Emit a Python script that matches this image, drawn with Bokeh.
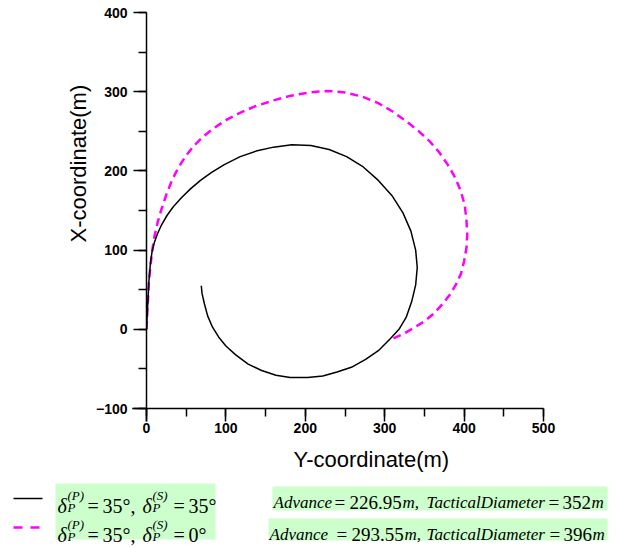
from bokeh.plotting import figure
from bokeh.models import Range1d, LinearAxis, SingleIntervalTicker, Title, ColumnDataSource
from bokeh.core.properties import value
from bokeh.embed import file_html
from bokeh.resources import INLINE

# ---- data (Y-coordinate, X-coordinate) ----
black_y = [0, 1, 2, 3, 5, 7, 10, 14, 19, 26, 34, 44, 55, 68, 82, 98, 118, 138, 160, 183, 207,
           230, 252, 273, 292, 309, 323, 333, 339, 341, 339, 334, 327, 318, 307, 292, 276,
           258, 240, 222, 203, 181, 163, 145, 128, 112, 100, 91, 83, 77, 73, 70, 69]
black_x = [0, 20, 40, 60, 84, 98, 110, 121, 132, 144, 155, 166, 177, 188, 198, 208, 218, 225, 230, 233, 232,
           227, 218, 205, 188, 169, 147, 124, 100, 78, 56, 35, 15, 0, -12, -27, -38,
           -48, -54, -59, -61, -61, -58, -52, -44, -32, -21, -10, 3, 17, 32, 45, 55]

mag_y = [0, 1, 2, 3, 5, 7, 10, 14, 19, 25, 32, 40, 49, 59, 71, 85, 100, 117, 138, 160, 182,
         205, 228, 250, 271, 291, 310, 328, 343, 357, 369, 380, 389, 396, 401, 403, 404,
         403, 400, 396, 390, 383, 373, 362, 350, 337, 323, 310]
mag_x = [0, 20, 40, 60, 80, 98, 117, 135, 152, 170, 188, 204, 218, 231, 243, 254, 264, 273, 282, 289, 295,
         299, 301, 299, 294, 286, 275, 262, 250, 237, 223, 207, 191, 174, 156, 137, 120,
         103, 86, 70, 57, 45, 32, 20, 10, 2, -6, -12]

x_range = (0, 500)
y_range = (-100, 400)
tick_interval = 100
x_label = "Y-coordinate(m)"
y_label = "X-coordinate(m)"

row1_left = ["δ", "(P)", "P", "=", "35°,", "δ", "(S)", "P", "=", "35°"]
row2_left = ["δ", "(P)", "P", "=", "35°,", "δ", "(S)", "P", "=", "0°"]
row1_right = ["Advance", "=", "226.95", "m,", "TacticalDiameter", "=", "352", "m"]
row2_right = ["Advance", "=", "293.55", "m,", "TacticalDiameter", "=", "396", "m"]

# ---- layout constants (pixels) ----
W, H = 617, 547
BL, BR, BT, BB = 146, 74, 12, 139
FW, FH = W - BL - BR, H - BT - BB
SX = FW / (x_range[1] - x_range[0])
SY = FH / (y_range[1] - y_range[0])

def px(page_x):  # page pixel -> data x
    return x_range[0] + (page_x - BL) / SX

def py(page_y):  # page pixel -> data y
    return y_range[1] - (page_y - BT) / SY

p = figure(width=W, height=H, x_range=Range1d(*x_range), y_range=Range1d(*y_range),
           output_backend="svg", toolbar_location=None, x_axis_type=None, y_axis_type=None,
           min_border_left=BL, min_border_right=BR, min_border_top=BT, min_border_bottom=BB)
p.outline_line_color = None

xaxis = LinearAxis(ticker=SingleIntervalTicker(interval=tick_interval, num_minor_ticks=2))
yaxis = LinearAxis(ticker=SingleIntervalTicker(interval=tick_interval, num_minor_ticks=2))
for ax in (xaxis, yaxis):
    ax.axis_line_color = "black"
    ax.axis_line_width = 1.5
    ax.major_tick_line_color = "black"
    ax.major_tick_line_width = 1.5
    ax.major_tick_out = 13
    ax.major_tick_in = 0
    ax.minor_tick_line_color = "black"
    ax.minor_tick_line_width = 1.5
    ax.minor_tick_out = 8
    ax.minor_tick_in = 0
    ax.major_label_text_font = "Liberation Sans"
    ax.major_label_text_font_size = "14px"
    ax.major_label_text_font_style = "bold"
    ax.major_label_text_color = "black"
xaxis.major_label_standoff = 1
yaxis.major_label_standoff = 6
p.add_layout(xaxis, "below")
p.add_layout(yaxis, "left")

p.add_layout(Title(text=x_label, align="left", offset=147, standoff=19, text_font="Liberation Sans",
                   text_font_size="22px", text_font_style="normal", text_color="black"), "below")
p.add_layout(Title(text=y_label, align="left", offset=166, standoff=4, text_font="Liberation Sans",
                   text_font_size="22px", text_font_style="normal", text_color="black"), "left")

# small axis-line extensions past the origin corner
ext = 18
p.line([x_range[0] - ext, x_range[0]], [y_range[0], y_range[0]], line_color="black", line_width=1.5, level="overlay")
p.line([x_range[0], x_range[0]], [y_range[0] - ext * 0.9, y_range[0]], line_color="black", line_width=1.5, level="overlay")

p.line(mag_y, mag_x, line_color="#ff00ff", line_width=2.5, line_dash="8 5")
p.line(black_y, black_x, line_color="black", line_width=1.5)

# ---- legend area (below the plot) ----
p.line([px(13), px(42)], [py(498), py(498)], line_color="black", line_width=1.5, level="overlay")
p.line([px(13), px(41)], [py(527), py(527)], line_color="#ff00ff", line_width=2.5, line_dash="9 8", level="overlay")

green = "#ccffcc"
p.quad(left=[px(55), px(272), px(268)], right=[px(215), px(607), px(607)],
       top=[py(483), py(486), py(518)], bottom=[py(539), py(510), py(540)],
       fill_color=green, line_color=None, level="overlay")

def arrow(cy):
    xs = [225, 239, 239, 251, 239, 239, 225]
    ys = [cy - 4, cy - 4, cy - 8, cy, cy + 8, cy + 4, cy + 4]
    return [px(v) for v in xs], [py(v) for v in ys]
a1 = arrow(496)
a2 = arrow(527)
p.patches(xs=[a1[0], a2[0]], ys=[a1[1], a2[1]], fill_color="#6464a6", line_color="#3a3a74",
          line_width=1, level="overlay")

serif = value("Liberation Serif")

def add_text(xs, ys, texts, sizes, styles):
    src = ColumnDataSource(dict(x=[px(v) for v in xs], y=[py(v) for v in ys], t=texts, s=sizes, st=styles))
    p.text(x="x", y="y", text="t", source=src, text_font=serif, text_font_size="s",
           text_font_style="st", text_color="black", text_baseline="alphabetic", text_align="left",
           level="overlay")

def left_row(texts, base):
    xs = [57, 67, 67, 87, 102, 142, 152, 152, 173, 188]
    ys = [base, base - 10, base + 2, base, base, base, base - 10, base + 2, base, base]
    sizes = ["20px", "13px", "13px", "20px", "20px", "20px", "13px", "13px", "20px", "20px"]
    styles = ["italic", "italic", "italic", "normal", "normal", "italic", "italic", "italic", "normal", "normal"]
    add_text(xs, ys, texts, sizes, styles)

def right_row(texts, xs, base):
    sizes = ["17px", "19px", "19px", "17px", "17px", "19px", "19px", "17px"]
    styles = ["italic", "normal", "normal", "italic", "italic", "normal", "normal", "italic"]
    add_text(xs, [base] * len(xs), texts, sizes, styles)

left_row(row1_left, 505)
left_row(row2_left, 534)
right_row(row1_right, [273, 334, 349, 402, 426, 548, 562, 591], 502)
right_row(row2_right, [269, 336, 351, 404, 426, 549, 563, 592], 534)

open("out.html", "w").write(file_html(p, INLINE))
